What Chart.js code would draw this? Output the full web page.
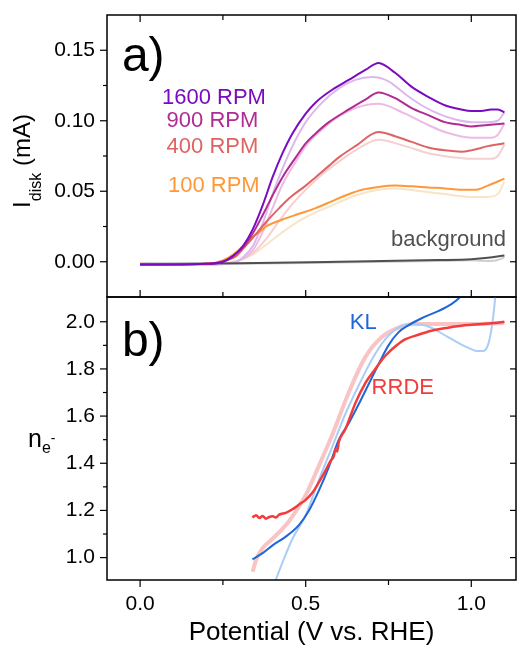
<!DOCTYPE html>
<html>
<head>
<meta charset="utf-8">
<script src="https://cdn.jsdelivr.net/npm/chart.js@4/dist/chart.umd.min.js"></script>
<style>
  html, body { margin:0; padding:0; background:#fff; }
  #wrap { position:relative; width:517px; height:646px; overflow:hidden; }
  #wrap canvas { position:absolute; left:0; }
  #cTop { top:-20px; }
  #cBot { top:260px; }
</style>
</head>
<body>
<div id="wrap">
  <canvas id="cTop" width="517" height="350"></canvas>
  <canvas id="cBot" width="517" height="386"></canvas>
</div>
<script>
// ---- data: a) disk current vs potential ----
const v1600  = [0, 0.10, 0.20, 0.25, 0.28, 0.31, 0.34, 0.37, 0.40, 0.43, 0.46, 0.50, 0.53, 0.58, 0.63, 0.68, 0.72, 0.77, 0.82, 0.87, 0.92, 0.97, 1.00, 1.03, 1.06, 1.08, 1.10];
const i1600  = [-0.002, -0.002, -0.0015, 0.000, 0.004, 0.011, 0.023, 0.040, 0.060, 0.077, 0.091, 0.105, 0.113, 0.122, 0.129, 0.136, 0.141, 0.134, 0.124, 0.117, 0.111, 0.108, 0.107, 0.107, 0.108, 0.108, 0.106];
const v1600b = [0, 0.20, 0.28, 0.31, 0.34, 0.37, 0.40, 0.43, 0.46, 0.50, 0.55, 0.60, 0.65, 0.70, 0.75, 0.80, 0.85, 0.90, 0.95, 1.00, 1.05, 1.08, 1.10];
const i1600b = [-0.002, -0.002, -0.001, 0.003, 0.011, 0.027, 0.048, 0.066, 0.082, 0.099, 0.113, 0.123, 0.129, 0.131, 0.128, 0.119, 0.111, 0.105, 0.101, 0.099, 0.099, 0.100, 0.106];

const v900  = [0, 0.20, 0.25, 0.28, 0.31, 0.34, 0.37, 0.40, 0.43, 0.47, 0.50, 0.53, 0.57, 0.63, 0.68, 0.72, 0.77, 0.82, 0.87, 0.92, 0.97, 1.00, 1.05, 1.10];
const i900  = [-0.002, -0.0015, 0.000, 0.004, 0.010, 0.020, 0.033, 0.047, 0.060, 0.074, 0.084, 0.091, 0.099, 0.108, 0.115, 0.120, 0.116, 0.109, 0.104, 0.099, 0.097, 0.096, 0.097, 0.098];
const v900b = [0, 0.20, 0.30, 0.34, 0.37, 0.40, 0.43, 0.47, 0.50, 0.55, 0.60, 0.65, 0.72, 0.80, 0.87, 0.92, 1.00, 1.06, 1.08, 1.10];
const i900b = [-0.002, -0.002, 0.001, 0.008, 0.021, 0.038, 0.055, 0.071, 0.082, 0.094, 0.103, 0.109, 0.112, 0.105, 0.097, 0.092, 0.088, 0.088, 0.090, 0.098];

const v400  = [0, 0.20, 0.26, 0.29, 0.31, 0.34, 0.38, 0.42, 0.45, 0.50, 0.53, 0.57, 0.60, 0.65, 0.72, 0.77, 0.82, 0.87, 0.92, 0.97, 1.00, 1.05, 1.10];
const i400  = [-0.002, -0.0015, 0.001, 0.004, 0.009, 0.017, 0.028, 0.038, 0.045, 0.054, 0.060, 0.068, 0.074, 0.082, 0.092, 0.089, 0.085, 0.081, 0.079, 0.078, 0.079, 0.082, 0.084];
const v400b = [0, 0.20, 0.30, 0.34, 0.38, 0.42, 0.46, 0.50, 0.55, 0.60, 0.65, 0.72, 0.80, 0.87, 0.95, 1.00, 1.06, 1.08, 1.10];
const i400b = [-0.002, -0.002, 0.001, 0.006, 0.016, 0.029, 0.041, 0.051, 0.062, 0.071, 0.079, 0.0865, 0.082, 0.077, 0.074, 0.073, 0.073, 0.075, 0.083];

const v100  = [0, 0.20, 0.25, 0.28, 0.31, 0.33, 0.36, 0.38, 0.43, 0.48, 0.53, 0.58, 0.62, 0.67, 0.72, 0.77, 0.82, 0.87, 0.92, 0.97, 1.01, 1.05, 1.10];
const i100  = [-0.002, -0.0015, 0.001, 0.005, 0.011, 0.016, 0.021, 0.025, 0.030, 0.034, 0.038, 0.043, 0.047, 0.051, 0.053, 0.054, 0.0535, 0.0527, 0.052, 0.051, 0.051, 0.054, 0.059];
const v100b = [0, 0.20, 0.30, 0.34, 0.38, 0.43, 0.48, 0.53, 0.58, 0.65, 0.72, 0.77, 0.85, 0.92, 1.00, 1.05, 1.08, 1.10];
const i100b = [-0.002, -0.002, 0.001, 0.005, 0.012, 0.021, 0.029, 0.035, 0.040, 0.047, 0.051, 0.052, 0.050, 0.048, 0.046, 0.046, 0.048, 0.057];

const vBg  = [0, 0.30, 0.60, 0.90, 1.00, 1.05, 1.10];
const iBg  = [-0.0015, -0.001, 0.000, 0.0012, 0.0018, 0.0028, 0.0045];
const vBgb = [0, 0.30, 0.60, 0.90, 1.00, 1.06, 1.09, 1.10];
const iBgb = [-0.002, -0.0015, -0.0005, 0.0005, 0.001, 0.0005, 0.002, 0.0035];

// ---- data: b) electron number ----
const vKL  = [0.339, 0.37, 0.40, 0.44, 0.48, 0.51, 0.54, 0.57, 0.60, 0.63, 0.66, 0.69, 0.72, 0.75, 0.78, 0.81, 0.85, 0.90, 0.94, 0.97, 0.99];
const nKL  = [0.993, 1.019, 1.052, 1.089, 1.139, 1.200, 1.285, 1.385, 1.50, 1.57, 1.65, 1.735, 1.82, 1.90, 1.955, 1.985, 2.015, 2.045, 2.075, 2.11, 2.15];
const vKLb = [0.40, 0.43, 0.46, 0.50, 0.54, 0.58, 0.62, 0.66, 0.70, 0.74, 0.78, 0.82, 0.87, 0.93, 0.99, 1.02, 1.035, 1.05, 1.06, 1.07, 1.08];
const nKLb = [0.87, 0.98, 1.08, 1.18, 1.33, 1.47, 1.61, 1.73, 1.84, 1.925, 1.975, 1.99, 1.98, 1.935, 1.89, 1.876, 1.876, 1.90, 1.96, 2.07, 2.25];
const vRR  = [0.339, 0.35, 0.36, 0.37, 0.38, 0.39, 0.40, 0.41, 0.42, 0.44, 0.46, 0.48, 0.50, 0.52, 0.54, 0.56, 0.575, 0.585, 0.59, 0.595, 0.60, 0.62, 0.65, 0.68, 0.71, 0.74, 0.77, 0.80, 0.84, 0.88, 0.93, 0.98, 1.03, 1.07, 1.10];
const nRR  = [1.17, 1.18, 1.168, 1.176, 1.165, 1.172, 1.175, 1.17, 1.182, 1.19, 1.205, 1.225, 1.245, 1.275, 1.32, 1.37, 1.41, 1.43, 1.46, 1.45, 1.49, 1.545, 1.655, 1.74, 1.80, 1.855, 1.895, 1.925, 1.945, 1.962, 1.975, 1.985, 1.99, 1.995, 2.0];
const vRRb = [0.34, 0.35, 0.37, 0.40, 0.45, 0.50, 0.54, 0.58, 0.63, 0.68, 0.73, 0.78, 0.83, 0.90, 1.00, 1.10];
const nRRb = [0.94, 0.99, 1.04, 1.08, 1.155, 1.265, 1.39, 1.52, 1.70, 1.85, 1.935, 1.975, 1.99, 1.99, 1.99, 1.995];

// ---- ticks ----
const xMajor = [0, 0.5, 1.0];
const xMinor = [0.25, 0.75];
const iMajor = [0, 0.05, 0.10, 0.15];
const iMinor = [0.025, 0.075, 0.125];
const nMajor = [1.0, 1.2, 1.4, 1.6, 1.8, 2.0];
const nMinor = [1.1, 1.3, 1.5, 1.7, 1.9];

const FONT = '"Liberation Sans", Arial, sans-serif';
Chart.defaults.font.family = FONT;

const pts = (xs, ys) => xs.map((x, k) => ({x, y: ys[k]}));
const line = (xs, ys, color, w) => ({
  data: pts(xs, ys), borderColor: color, borderWidth: w || 2,
  pointRadius: 0, fill: false, cubicInterpolationMode: 'monotone'
});
const asTicks = arr => s => { s.ticks = arr.map(v => ({value: v})); };

// frame, inward/outward ticks, axis titles and text labels
const decor = {
  id: 'decor',
  afterDraw(chart, args, o){
    const {ctx, chartArea:a, scales:{x, y}} = chart;
    ctx.save();
    ctx.strokeStyle = '#000';
    const seg = (x1,y1,x2,y2)=>{ ctx.beginPath(); ctx.moveTo(x1,y1); ctx.lineTo(x2,y2); ctx.stroke(); };
    ctx.lineWidth = 1.2;
    const xt = xMajor.map(v=>[v,7]).concat(xMinor.map(v=>[v,5]));
    xt.forEach(([v,len])=>{
      const px = x.getPixelForValue(v);
      if(o.xTop) seg(px, a.top, px, a.top+len);
      if(o.xBottomIn) seg(px, a.bottom, px, a.bottom-len);
      if(o.xBottomOut) seg(px, a.bottom, px, a.bottom+len);
    });
    o.yMajor.forEach(v=>{ const py=y.getPixelForValue(v); seg(a.left-7,py,a.left,py); seg(a.right,py,a.right-6,py); });
    o.yMinor.forEach(v=>{ const py=y.getPixelForValue(v); seg(a.left-4,py,a.left,py); });
    ctx.lineWidth = 1.5;
    ctx.strokeRect(a.left, a.top, a.right-a.left, a.bottom-a.top);

    // labels placed in data coordinates
    ctx.textBaseline = 'middle';
    (o.labels||[]).forEach(l=>{
      ctx.font = `${l.size||22}px ${FONT}`;
      ctx.fillStyle = l.color || '#000';
      ctx.textAlign = l.align || 'left';
      ctx.fillText(l.text, x.getPixelForValue(l.x), y.getPixelForValue(l.y));
    });

    // y title with sub/superscripts
    if(o.title){
      const t = o.title;
      ctx.translate(t.x, t.y);
      if(t.rotate) ctx.rotate(-Math.PI/2);
      ctx.textBaseline = 'alphabetic';
      ctx.textAlign = 'left';
      ctx.fillStyle = '#000';
      let w = 0;
      t.parts.forEach(p=>{ ctx.font = `${p.size}px ${FONT}`; p.w = ctx.measureText(p.text).width; w += p.w; });
      let cx = t.rotate ? -w/2 : 0;
      t.parts.forEach(p=>{ ctx.font = `${p.size}px ${FONT}`; ctx.fillText(p.text, cx, p.dy); cx += p.w; });
    }
    ctx.restore();
  }
};

const tickFont = {size: 21, family: FONT};

// ---- a) top panel ----
new Chart(document.getElementById('cTop'), {
  type: 'line',
  data: { datasets: [
    line(v1600, i1600, '#7a0bc0'),
    line(v900,  i900,  '#b02c92'),
    line(v400,  i400,  '#de6464'),
    line(v100,  i100,  '#ff9838'),
    line(vBg,   iBg,   '#505050'),
    line(v1600b, i1600b, '#dcb8ec'),
    line(v900b,  i900b,  '#ebbbe4'),
    line(v400b,  i400b,  '#f6cfcf'),
    line(v100b,  i100b,  '#fae4c6'),
    line(vBgb,   iBgb,   '#cfcfcf')
  ]},
  options: {
    responsive: false, animation: false,
    layout: { padding: {top: 35, right: 1, left: 0, bottom: 0} },
    plugins: {
      legend: {display: false}, tooltip: {enabled: false},
      decor: {
        xTop: true, xBottomIn: true, yMajor: iMajor, yMinor: iMinor,
        labels: [
          {text: 'a)', x: -0.055, y: 0.1445, size: 48},
          {text: '1600 RPM', x: 0.066, y: 0.116, color: '#7a0bc0'},
          {text: '900 RPM',  x: 0.080, y: 0.0998, color: '#b02c92'},
          {text: '400 RPM',  x: 0.080, y: 0.0814, color: '#de6464'},
          {text: '100 RPM',  x: 0.084, y: 0.0537, color: '#ff9838'},
          {text: 'background', x: 1.105, y: 0.0154, color: '#505050', align: 'right'}
        ],
        title: { x: 22, y: 181, rotate: true, parts: [
          {text: 'I', size: 24, dy: 8},
          {text: 'disk', size: 16, dy: 19},
          {text: ' (mA)', size: 24, dy: 8}
        ]}
      }
    },
    scales: {
      x: { type: 'linear', min: -0.1, max: 1.135,
        grid: {display: false, drawTicks: false}, border: {display: false},
        ticks: {display: false}, afterFit: s => { s.height = 33; } },
      y: { type: 'linear', min: -0.025, max: 0.175,
        grid: {display: false, drawTicks: false}, border: {display: false},
        ticks: {color: '#000', font: tickFont, padding: 12, callback: v => v.toFixed(2)},
        afterBuildTicks: asTicks(iMajor), afterFit: s => { s.width = 107; } }
    }
  },
  plugins: [decor]
});

// ---- b) bottom panel ----
new Chart(document.getElementById('cBot'), {
  type: 'line',
  data: { datasets: [
    line(vRR,  nRR,  '#f23c3c', 2.5),
    line(vKL,  nKL,  '#1f66d6'),
    line(vKLb, nKLb, '#aacdf6'),
    line(vRRb, nRRb, '#f8c4c4', 4)
  ]},
  options: {
    responsive: false, animation: false,
    layout: { padding: {top: 37, right: 1, left: 0, bottom: 0} },
    plugins: {
      legend: {display: false}, tooltip: {enabled: false},
      decor: {
        xBottomOut: true, yMajor: nMajor, yMinor: nMinor,
        labels: [
          {text: 'b)', x: -0.055, y: 1.91, size: 48},
          {text: 'KL', x: 0.633, y: 1.995, color: '#1f66d6'},
          {text: 'RRDE', x: 0.699, y: 1.719, color: '#f03c3c'}
        ],
        title: { x: 28, y: 187, rotate: false, parts: [
          {text: 'n', size: 25, dy: 0},
          {text: 'e', size: 16, dy: 6},
          {text: '-', size: 14, dy: -4}
        ]}
      }
    },
    scales: {
      x: { type: 'linear', min: -0.1, max: 1.135,
        grid: {display: false, drawTicks: false}, border: {display: false},
        ticks: {color: '#000', font: tickFont, padding: 12, maxRotation: 0, callback: v => v.toFixed(1)},
        afterBuildTicks: asTicks(xMajor),
        title: {display: true, text: 'Potential (V vs. RHE)', color: '#000', font: {size: 26, family: FONT, lineHeight: 1}, padding: {top: 0, bottom: 0}},
        afterFit: s => { s.height = 66; } },
      y: { type: 'linear', min: 0.905, max: 2.105,
        grid: {display: false, drawTicks: false}, border: {display: false},
        ticks: {color: '#000', font: tickFont, padding: 12, callback: v => v.toFixed(1)},
        afterBuildTicks: asTicks(nMajor), afterFit: s => { s.width = 107; } }
    }
  },
  plugins: [decor]
});
</script>
</body>
</html>
